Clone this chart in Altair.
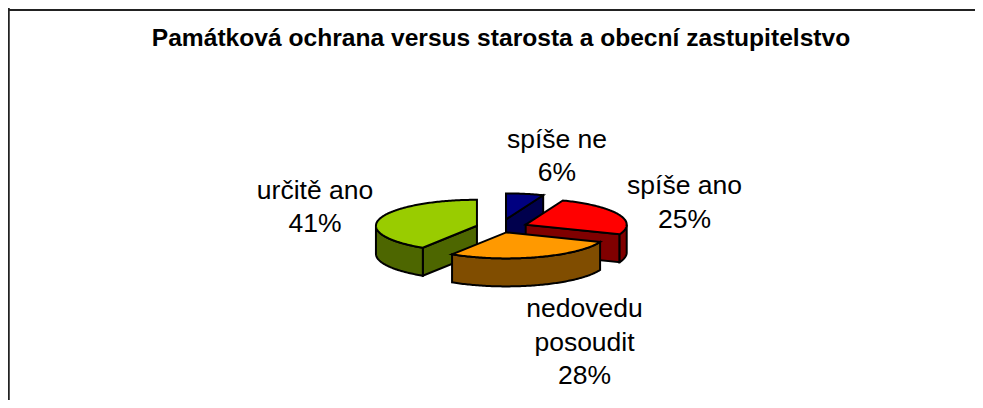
import math
import altair as alt

title = "Památková ochrana versus starosta a obecní zastupitelstvo"
categories = ["spíše ne", "spíše ano", "nedovedu posoudit", "určitě ano"]
percent = [6, 25, 28, 41]
top_colors = ["#000080", "#ff0000", "#ff9900", "#99cc00"]
wall_colors = ["#00004d", "#800000", "#804d00", "#4d6600"]
explode = [32, 28, 20, 24]
draw_order = [0, 3, 1, 2]
label_lines = [["spíše ne", "6%"], ["spíše ano", "25%"], ["nedovedu", "posoudit", "28%"], ["určitě ano", "41%"]]
label_x = [549, 676.5, 576.5, 307]
label_y = [131.5, 178, 301, 182.5]

W, H = 967, 392
CX, CY, A, B, D = 492, 219.5, 101, 26, 28


def pt(c, t):
    r = math.radians(t)
    return [c[0] + A * math.sin(r), c[1] - B * math.cos(r)]


def arc(c, t0, t1):
    n = max(2, int(abs(t1 - t0)) + 1)
    return [pt(c, t0 + (t1 - t0) * i / (n - 1)) for i in range(n)]


def down(p):
    return [p[0], p[1] + D]


def feat(ring, fill):
    ring = ring + [ring[0]]
    return {"type": "Feature", "properties": {"fill": fill},
            "geometry": {"type": "Polygon", "coordinates": [ring]}}


spans = []
t = 0.0
for p in percent:
    spans.append((t, t + p * 3.6))
    t += p * 3.6

features = []
for i in draw_order:
    t0, t1 = spans[i]
    mid = math.radians((t0 + t1) / 2)
    c = [CX + explode[i] * math.sin(mid), CY - explode[i] * B / A * math.cos(mid)]
    if 0 < t1 < 180:
        p = pt(c, t1)
        features.append(feat([c, p, down(p), down(c)], wall_colors[i]))
    if 180 < t0 < 360:
        p = pt(c, t0)
        features.append(feat([c, p, down(p), down(c)], wall_colors[i]))
    a0, a1 = max(t0, 90), min(t1, 270)
    if a0 < a1:
        edge = arc(c, a0, a1)
        features.append(feat(edge + [down(q) for q in reversed(edge)], wall_colors[i]))
    features.append(feat([c] + arc(c, t0, t1), top_colors[i]))

pie = alt.Chart(alt.InlineData(
    values={"type": "FeatureCollection", "features": features},
    format=alt.DataFormat(property="features", type="json"),
)).mark_geoshape(stroke="black", strokeWidth=2, strokeJoin="miter").encode(
    color=alt.Color("properties.fill:N", scale=None)
).project(type="identity", scale=1, translate=[0, 0])

rows = []
for i, lines in enumerate(label_lines):
    for j, s in enumerate(lines):
        rows.append({"text": s, "x": label_x[i], "y": label_y[i] + j * 33.5})
labels = alt.Chart(alt.Data(values=rows)).mark_text(
    font="Liberation Sans", fontSize=26.5, color="black", align="center", baseline="middle"
).encode(
    x=alt.X("x:Q", scale=None),
    y=alt.Y("y:Q", scale=None),
    text="text:N",
)
head = alt.Chart(alt.Data(values=[{"text": title, "x": 493, "y": 30.5}])).mark_text(
    font="Liberation Sans", fontSize=24.6, fontWeight="bold", color="black", align="center", baseline="middle"
).encode(x=alt.X("x:Q", scale=None), y=alt.Y("y:Q", scale=None), text="text:N")

frame_top = alt.Chart(alt.Data(values=[{"a": 0}])).mark_rule(color="#222222", strokeWidth=2).encode(
    x=alt.value(0), x2=alt.value(W), y=alt.value(2))
frame_left = alt.Chart(alt.Data(values=[{"a": 0}])).mark_rule(color="#222222", strokeWidth=2).encode(
    x=alt.value(0.75), y=alt.value(0), y2=alt.value(H))

chart = alt.layer(frame_top, frame_left, pie, labels, head).properties(
    width=W, height=H, padding=0, autosize=alt.AutoSizeParams(type="none"), background="white"
).configure_view(stroke=None)

chart.save("out.html", embed_options={"renderer": "svg", "actions": False})
